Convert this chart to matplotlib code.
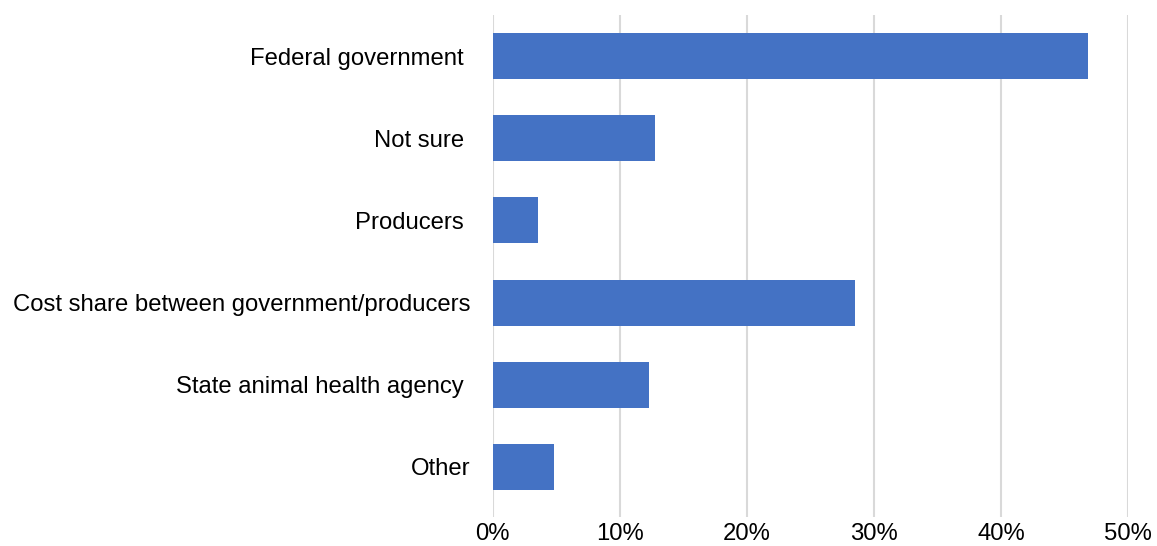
import matplotlib.pyplot as plt
from matplotlib.ticker import PercentFormatter

plt.rcParams['font.family'] = ['Liberation Sans', 'DejaVu Sans']

# who should pay
categories = ['Federal government ', 'Not sure ', 'Producers ',
              'Cost share between government/producers', 'State animal health agency ', 'Other']
shares = [46.8, 12.8, 3.6, 28.5, 12.3, 4.8]
x_ticks = [0, 10, 20, 30, 40, 50]

fig = plt.figure(figsize=(11.57, 5.46), dpi=100)
ax = fig.add_axes([492.5 / 1157, 1 - 517 / 546, (1128.3 - 492.5) / 1157, (517 - 15) / 546])

ypos = range(len(categories))
ax.barh(ypos, shares, height=0.56, color='#4472C4', zorder=3)

ax.set_xlim(0, 50)
ax.set_ylim(5.61, -0.5)
ax.set_xticks(x_ticks)
ax.xaxis.set_major_formatter(PercentFormatter(decimals=0))
ax.set_yticks(list(ypos))
ax.set_yticklabels(categories)

ax.grid(axis='x', color='#d9d9d9', linewidth=1.5, zorder=0)
for s in ax.spines.values():
    s.set_visible(False)
ax.tick_params(axis='both', length=0, labelsize=17.2, colors='black')
ax.tick_params(axis='y', pad=16)
ax.tick_params(axis='x', pad=4.5)

fig.savefig('out.png', dpi=100)
